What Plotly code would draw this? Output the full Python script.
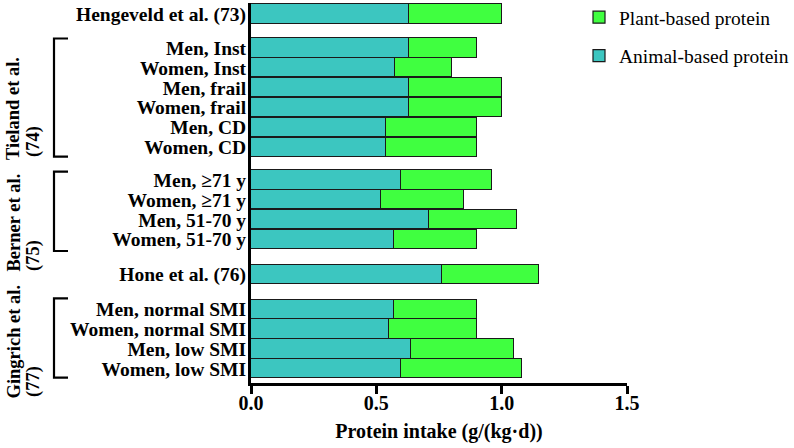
import plotly.graph_objects as go

labels = ["Hengeveld et al. (73)",
          "Men, Inst", "Women, Inst", "Men, frail", "Women, frail", "Men, CD", "Women, CD",
          "Men, \u226571 y", "Women, \u226571 y", "Men, 51-70 y", "Women, 51-70 y",
          "Hone et al. (76)",
          "Men, normal SMI", "Women, normal SMI", "Men, low SMI", "Women, low SMI"]
animal = [0.63, 0.63, 0.575, 0.63, 0.63, 0.54, 0.54,
          0.60, 0.52, 0.71, 0.57, 0.76, 0.57, 0.55, 0.64, 0.60]
total = [1.0, 0.9, 0.8, 1.0, 1.0, 0.9, 0.9,
         0.96, 0.85, 1.06, 0.9, 1.15, 0.9, 0.9, 1.05, 1.08]
plant = [round(t - a, 3) for t, a in zip(total, animal)]
ypos = [0, 1.72, 2.72, 3.72, 4.72, 5.72, 6.72,
        8.38, 9.38, 10.38, 11.38, 13.13, 14.9, 15.9, 16.9, 17.9]

group_names = ["Tieland et al.", "Berner et al.", "Gingrich et al."]
group_refs = ["(74)", "(75)", "(77)"]

serif = "Liberation Serif, Times New Roman, serif"
ANIMAL_C = "#3CC6C0"
PLANT_C = "#40FF40"

W, H = 794, 448
L, R, T, B = 251, 794 - 627, 3, 448 - 383
PW, PH = W - L - R, H - T - B


def px_x(page_x):
    return (page_x - L) / PW


def px_y(page_y):
    return (H - B - page_y) / PH


fig = go.Figure()
fig.add_trace(go.Bar(y=ypos, x=animal, orientation="h", name="Animal-based protein",
                     marker=dict(color=ANIMAL_C, line=dict(color="#1a1a1a", width=1.2)),
                     width=0.97, legendgroup="a", legendrank=2))
fig.add_trace(go.Bar(y=ypos, x=plant, orientation="h", name="Plant-based protein",
                     marker=dict(color=PLANT_C, line=dict(color="#1a1a1a", width=1.2)),
                     width=0.97, legendgroup="p", legendrank=1))

brackets = [(38.5, 156.7), (171.7, 251), (298.3, 377.7)]
label_bottoms = [(161, 158), (273, 272), (400, 398)]

shapes = []
ann = []
bx0, bx1 = px_x(54), px_x(68)
for (p0, p1) in brackets:
    y0, y1 = px_y(p0), px_y(p1)
    shapes.append(dict(type="path", xref="paper", yref="paper",
                       path=f"M {bx1} {y0} L {bx0} {y0} L {bx0} {y1} L {bx1} {y1}",
                       line=dict(color="black", width=2.2)))
gfont = dict(family=serif, size=18.5, color="black", weight="bold")
for name, ref, (b1, b2) in zip(group_names, group_refs, label_bottoms):
    ann.append(dict(text=name, xref="paper", yref="paper", x=px_x(13.5), y=px_y(b1),
                    xanchor="center", yanchor="bottom", textangle=-90,
                    showarrow=False, font=gfont, borderpad=0))
    ann.append(dict(text=ref, xref="paper", yref="paper", x=px_x(33.5), y=px_y(b2),
                    xanchor="center", yanchor="bottom", textangle=-90,
                    showarrow=False, font=gfont, borderpad=0))

fig.update_layout(
    barmode="stack",
    width=W, height=H,
    margin=dict(l=L, r=R, t=T, b=B, autoexpand=False),
    plot_bgcolor="white", paper_bgcolor="white",
    shapes=shapes, annotations=ann,
    font=dict(family=serif, color="black"),
    legend=dict(x=px_x(579), y=px_y(-2), xanchor="left", yanchor="top",
                traceorder="grouped", tracegroupgap=10,
                font=dict(family=serif, size=19.5, color="black"),
                bgcolor="rgba(0,0,0,0)"),
    bargap=0,
)
ybot = 18.62
ytop = ybot - PH / 19.82
fig.update_xaxes(range=[0, 1.5], tickvals=[0, 0.5, 1.0, 1.5],
                 ticktext=["0.0", "0.5", "1.0", "1.5"],
                 showgrid=False, zeroline=False, showline=True, linecolor="black",
                 linewidth=3, ticks="outside", ticklen=8, tickwidth=3, tickcolor="black",
                 ticklabelstandoff=-8,
                 tickfont=dict(family=serif, size=20, color="black", weight="bold"),
                 title=dict(text="Protein intake (g/(kg\u00b7d))", standoff=11,
                            font=dict(family=serif, size=20, color="black", weight="bold")))
fig.update_yaxes(range=[ybot, ytop], tickvals=ypos, ticktext=labels,
                 showgrid=False, zeroline=False, showline=True, linecolor="black",
                 linewidth=3, ticks="", ticklabelstandoff=-2,
                 tickfont=dict(family=serif, size=19.5, color="black", weight="bold"))

fig.write_html("out.html", config={"displayModeBar": False},
               post_script="document.body.style.margin='0px';")
